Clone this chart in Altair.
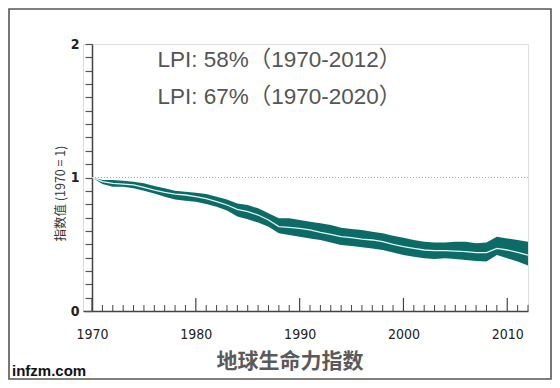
import altair as alt
import pandas as pd

# ---- data ----
years = list(range(1970, 2013))
center = [1.0, 0.969, 0.956, 0.951, 0.944, 0.926, 0.906, 0.889, 0.876, 0.869,
          0.856, 0.841, 0.819, 0.794, 0.762, 0.744, 0.719, 0.682, 0.632, 0.627,
          0.619, 0.607, 0.589, 0.574, 0.557, 0.549, 0.539, 0.532, 0.519, 0.499,
          0.482, 0.469, 0.457, 0.452, 0.452, 0.449, 0.444, 0.437, 0.437, 0.469,
          0.457, 0.439, 0.419]
upper = [1.0, 0.981, 0.981, 0.976, 0.969, 0.956, 0.936, 0.919, 0.901, 0.894,
         0.886, 0.876, 0.856, 0.836, 0.806, 0.794, 0.769, 0.732, 0.694, 0.694,
         0.682, 0.669, 0.657, 0.644, 0.624, 0.614, 0.607, 0.594, 0.582, 0.564,
         0.549, 0.532, 0.519, 0.514, 0.514, 0.519, 0.519, 0.507, 0.514, 0.557,
         0.544, 0.532, 0.519]
lower = [1.0, 0.951, 0.931, 0.931, 0.919, 0.901, 0.881, 0.856, 0.836, 0.826,
         0.819, 0.801, 0.781, 0.752, 0.707, 0.687, 0.662, 0.632, 0.582, 0.569,
         0.557, 0.544, 0.532, 0.514, 0.494, 0.487, 0.477, 0.469, 0.457, 0.439,
         0.419, 0.407, 0.395, 0.390, 0.395, 0.390, 0.382, 0.375, 0.370, 0.419,
         0.395, 0.370, 0.340]

ref_years = [1970, 2012]
ref_vals = [1.0, 1.0]

major_ticks = [1970, 1980, 1990, 2000, 2010]
minor_ticks = [y for y in years if y not in major_ticks]

x_labels = [1970, 1980, 1990, 2000, 2010]
y_ticks = [round(i * 0.1, 1) for i in range(21)]

notes = ["LPI: 58%（1970-2012）", "LPI: 67%（1970-2020）"]
note_year = [1976.3, 1976.3]
note_val = [1.88, 1.603]

main_title = "地球生命力指数"
y_title = "指数值 (1970 = 1)"
watermark = "infzm.com"

# ---- tables ----
band = pd.DataFrame({"year": years, "v": center, "lo": lower, "hi": upper})
ref = pd.DataFrame({"year": ref_years, "v": ref_vals})
maj = pd.DataFrame({"year": major_ticks})
mnr = pd.DataFrame({"year": minor_ticks})
note_df = pd.DataFrame({"year": note_year, "v": note_val, "t": notes})

W, H = 445, 267
LABEL_FONT = "Liberation Sans Narrow, DejaVu Sans Condensed, Liberation Sans"

xscale = alt.Scale(domain=[1969.13, 2012], nice=False, zero=False)
yscale = alt.Scale(domain=[0, 2], nice=False)

xaxis = alt.Axis(values=x_labels, format="d", ticks=False, tickSize=0,
                 labelPadding=16, labelFontSize=14, labelFont=LABEL_FONT,
                 labelColor="#222", domainColor="#444", domainWidth=1.5,
                 grid=False, title=None)
yaxis = alt.Axis(values=y_ticks, offset=-9, tickSize=7, tickColor="#555",
                 tickWidth=1.2, domainColor="#444", domainWidth=1.5,
                 grid=False, labelFontSize=14, labelFont=LABEL_FONT,
                 labelColor="#222", labelFontWeight="bold", labelPadding=6,
                 labelExpr="abs(datum.value - round(datum.value)) < 0.001 ? format(datum.value, 'd') : ''",
                 title=y_title, titleFont="Noto Sans CJK SC", titleFontSize=12.5,
                 titleFontWeight="normal", titleColor="#333",
                 titleX=-32, titleY=149, titleBaseline="middle", titleAngle=-90)


def X(field="year"):
    return alt.X(f"{field}:Q", scale=xscale, axis=xaxis)


def Y(field="v"):
    return alt.Y(f"{field}:Q", scale=yscale, axis=yaxis)


area = alt.Chart(band).mark_area(color="#0d6b67", opacity=1).encode(
    x=X(), y=Y("lo"), y2="hi:Q")
cline = alt.Chart(band).mark_line(color="#dff7f2", strokeWidth=1.3).encode(
    x=X(), y=Y("v"))
refline = alt.Chart(ref).mark_line(color="#a8a8a8", strokeDash=[1, 2],
                                   strokeWidth=1).encode(x=X(), y=Y("v"))
major = alt.Chart(maj).mark_rule(color="#444", strokeWidth=1.2).encode(
    x=X(), y=alt.value(H), y2=alt.value(H - 13))
minor = alt.Chart(mnr).mark_rule(color="#444", strokeWidth=1).encode(
    x=X(), y=alt.value(H), y2=alt.value(H - 6))
text = alt.Chart(note_df).mark_text(align="left", baseline="middle",
                                    fontSize=22.5, font="Liberation Sans, Noto Sans CJK SC",
                                    color="#555").encode(
    x=X(), y=Y("v"), text="t:N")

one = alt.Data(values=[{"a": 1}])
frame = alt.Chart(one).mark_rect(filled=False, stroke="#555", strokeWidth=1.6).encode(
    x=alt.value(-74), x2=alt.value(468), y=alt.value(-35), y2=alt.value(335))
wm = alt.Chart(one).mark_text(align="left", baseline="middle", fontSize=15,
                              fontWeight="bold", font="Liberation Sans",
                              color="#111", text=watermark).encode(
    x=alt.value(-71), y=alt.value(327))
ttl = alt.Chart(one).mark_text(align="center", baseline="middle", fontSize=21,
                               fontWeight="bold", font="Noto Sans CJK SC",
                               color="#5a5a5a", text=main_title).encode(
    x=alt.value(207), y=alt.value(318))

chart = alt.layer(frame, refline, area, cline, minor, major, text, wm, ttl).properties(
    width=W, height=H,
    autosize=alt.AutoSizeParams(type="none"),
    padding={"left": 75, "top": 36, "right": 24, "bottom": 69},
).configure_view(stroke=None).configure(background="white")

chart.save("out.html", embed_options={"renderer": "svg", "actions": False})
